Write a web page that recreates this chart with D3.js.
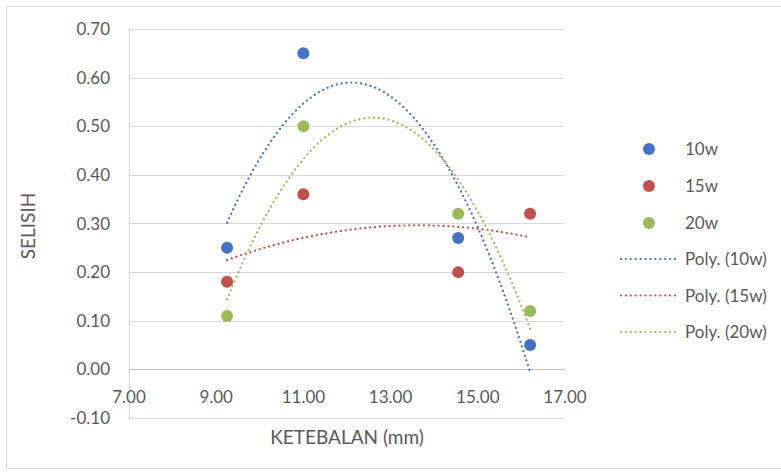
<!DOCTYPE html>
<html>
<head>
<meta charset="utf-8">
<script src="https://cdn.jsdelivr.net/npm/d3@7"></script>
<style>
  body { margin: 0; background: #fff; }
  text { font-family: Lato, "Open Sans", sans-serif; fill: #595959; }
</style>
</head>
<body>
<script>
// données
const KETEBALAN = [9.25, 11.0, 14.55, 16.2]
const S10 = [0.25, 0.65, 0.27, 0.05]
const S15 = [0.18, 0.36, 0.20, 0.32]
const S20 = [0.11, 0.50, 0.32, 0.12]
const SERIES = ['10w', '15w', '20w']
const COLORS = ['#4472c4', '#c0504d', '#9bbb59']
const X_TICKS = [7, 9, 11, 13, 15, 17]
const Y_TICKS = [-0.1, 0, 0.1, 0.2, 0.3, 0.4, 0.5, 0.6, 0.7]

const WIDTH = 781
const HEIGHT = 473

const svg = d3.select('body').append('svg')
  .attr('width', WIDTH)
  .attr('height', HEIGHT)

// cadre du graphique
svg.append('rect')
  .attr('x', 6.5).attr('y', 6.5)
  .attr('width', 800).attr('height', 462)
  .attr('fill', 'none').attr('stroke', '#d9d9d9')

const x = d3.scaleLinear().domain([7, 17]).range([129, 565])
const y = d3.scaleLinear().domain([-0.1, 0.7]).range([418, 29])

// format avec un trait d'union pour les négatifs
const fmt = d => d3.format('.2f')(d).replace('\u2212', '-')

// grille horizontale
svg.selectAll('.grid')
  .data(Y_TICKS)
  .enter().append('line')
  .attr('x1', x(7)).attr('x2', x(17))
  .attr('y1', d => Math.round(y(d)) + 0.5)
  .attr('y2', d => Math.round(y(d)) + 0.5)
  .attr('stroke', d => d === 0 ? '#bfbfbf' : '#d9d9d9')
  .attr('stroke-width', 1)

// axe vertical
svg.append('line')
  .attr('x1', x(7) + 0.5).attr('x2', x(7) + 0.5)
  .attr('y1', y(0.7)).attr('y2', y(-0.1))
  .attr('stroke', '#d9d9d9')

// étiquettes Y
svg.selectAll('.ylab')
  .data(Y_TICKS)
  .enter().append('text')
  .attr('x', x(7) - 19)
  .attr('y', d => y(d) + 6)
  .attr('text-anchor', 'end')
  .attr('font-size', 17)
  .text(fmt)

// étiquettes X (sous l'axe à y=0)
svg.selectAll('.xlab')
  .data(X_TICKS)
  .enter().append('text')
  .attr('x', d => x(d))
  .attr('y', y(0) + 34)
  .attr('text-anchor', 'middle')
  .attr('font-size', 17)
  .text(fmt)

// titres des axes
svg.append('text')
  .attr('x', 347).attr('y', 444)
  .attr('text-anchor', 'middle')
  .attr('font-size', 19)
  .text('KETEBALAN (mm)')

svg.append('text')
  .attr('transform', `translate(35, 226) rotate(-90)`)
  .attr('text-anchor', 'middle')
  .attr('font-size', 19)
  .text('SELISIH')

// régression polynomiale d'ordre 2 (moindres carrés)
function polyFit(xs, ys) {
  const n = xs.length
  let s = [0, 0, 0, 0, 0], t = [0, 0, 0]
  for (let i = 0; i < n; i++) {
    for (let k = 0; k < 5; k++) s[k] += Math.pow(xs[i], k)
    for (let k = 0; k < 3; k++) t[k] += ys[i] * Math.pow(xs[i], k)
  }
  const M = [[s[0], s[1], s[2], t[0]], [s[1], s[2], s[3], t[1]], [s[2], s[3], s[4], t[2]]]
  for (let c = 0; c < 3; c++) {
    for (let r = c + 1; r < 3; r++) {
      const f = M[r][c] / M[c][c]
      for (let k = c; k < 4; k++) M[r][k] -= f * M[c][k]
    }
  }
  const b = [0, 0, 0]
  for (let r = 2; r >= 0; r--) {
    let v = M[r][3]
    for (let k = r + 1; k < 3; k++) v -= M[r][k] * b[k]
    b[r] = v / M[r][r]
  }
  return xx => b[0] + b[1] * xx + b[2] * xx * xx
}

const ALL = [S10, S15, S20]
const line = d3.line().x(d => x(d[0])).y(d => y(d[1]))
const xmin = d3.min(KETEBALAN), xmax = d3.max(KETEBALAN)

ALL.forEach((vals, i) => {
  const f = polyFit(KETEBALAN, vals)
  const pts = d3.range(0, 101).map(k => {
    const xx = xmin + (xmax - xmin) * k / 100
    return [xx, f(xx)]
  })
  svg.append('path')
    .attr('d', line(pts))
    .attr('fill', 'none')
    .attr('stroke', COLORS[i])
    .attr('stroke-width', 2.2)
    .attr('stroke-linecap', 'round')
    .attr('stroke-dasharray', '0.1 4.8')
})

// points
ALL.forEach((vals, i) => {
  svg.selectAll('.pt' + i)
    .data(vals)
    .enter().append('circle')
    .attr('cx', (d, j) => x(KETEBALAN[j]))
    .attr('cy', d => y(d))
    .attr('r', 6)
    .attr('fill', COLORS[i])
})

// légende
const leg = svg.append('g')
SERIES.forEach((s, i) => {
  const ly = 149 + i * 37
  leg.append('circle').attr('cx', 649).attr('cy', ly).attr('r', 6).attr('fill', COLORS[i])
  leg.append('text').attr('x', 685).attr('y', ly + 6).attr('font-size', 17).text(s)
})
SERIES.forEach((s, i) => {
  const ly = 259 + i * 36.5
  leg.append('line')
    .attr('x1', 621).attr('x2', 677).attr('y1', ly).attr('y2', ly)
    .attr('stroke', COLORS[i]).attr('stroke-width', 2.2)
    .attr('stroke-linecap', 'round').attr('stroke-dasharray', '0.1 4.8')
  leg.append('text').attr('x', 685).attr('y', ly + 6).attr('font-size', 17).text('Poly. (' + s + ')')
})
</script>
</body>
</html>
